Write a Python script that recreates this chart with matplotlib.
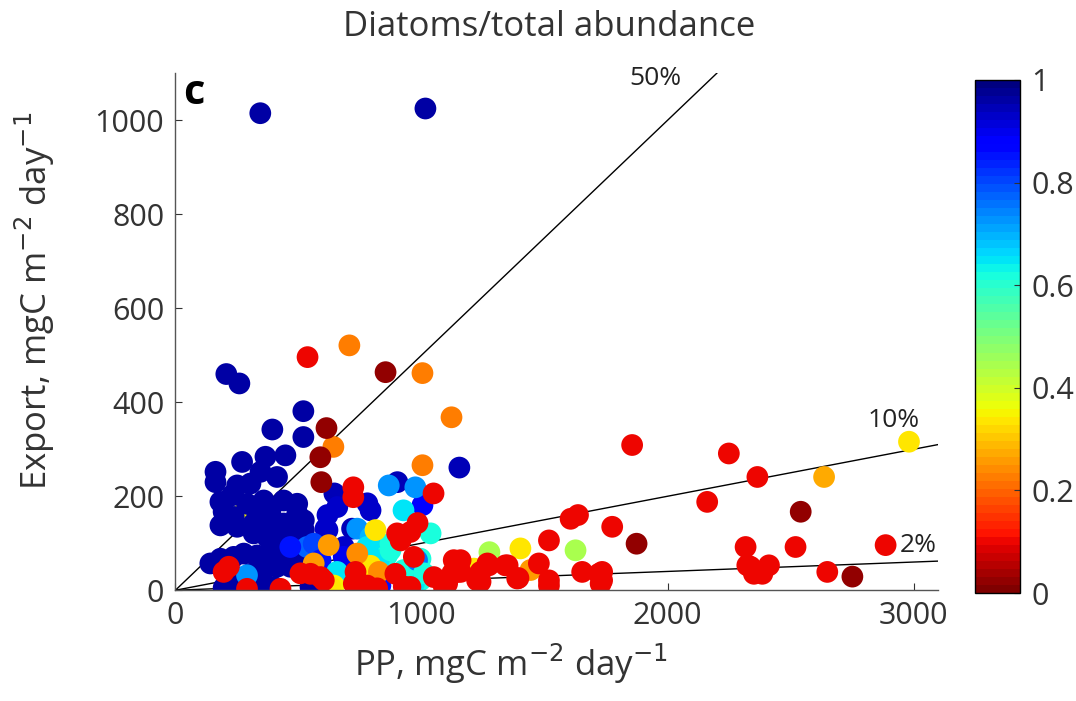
import matplotlib
matplotlib.use("Agg")
import matplotlib.pyplot as plt
import numpy as np

plt.rcParams['font.family'] = ['Open Sans', 'DejaVu Sans']

# ---- data (PP, Export, diatom fraction) ----
hidden_pp = [271]
hidden_ex = [162]
hidden_fr = [0.35]

blue_pp = [345, 1016, 207, 260, 520, 394, 520, 163, 163, 271, 366, 447, 346, 413, 251, 305,
           183, 230, 196, 237, 291, 359, 332, 386, 440, 495, 495, 522, 183, 251, 318, 318,
           386, 440, 373, 427, 481, 522, 142, 183, 237, 278, 332, 386, 427, 481, 224, 251,
           305, 359, 413, 467, 522, 196, 318, 400, 210, 359, 549,
           1154, 902, 646, 780, 793, 1004, 618, 610, 718, 684, 684, 618, 658]
blue_ex = [1015, 1025, 460, 440, 381, 342, 326, 252, 230, 273, 284, 287, 252, 241, 223, 227,
           188, 202, 167, 156, 184, 191, 167, 167, 191, 184, 163, 149, 138, 135, 142, 121,
           142, 142, 113, 121, 128, 128, 57, 67, 71, 78, 74, 78, 85, 85, 21, 28,
           35, 43, 50, 50, 50, 5, 7, 7, 3, 3, 7,
           261, 230, 206, 185, 170, 181, 160, 131, 131, 92, 71, 128, 177]
blue_fr = [0.96] * 59 + [0.95, 0.95, 0.95, 0.93, 0.93, 0.88, 0.93, 0.93, 0.95, 0.93, 0.9, 0.93, 0.93]

mid_pp = [535, 562, 467, 590, 833,
          867, 975, 927, 739, 793, 820, 874, 860, 996, 657, 827, 942, 996, 969, 1037, 291,
          779, 874, 928, 982, 1010,
          1276, 1626,
          1402, 2981, 813, 779, 644, 630, 793, 1213,
          707, 1004, 1122, 642, 1004, 2636, 623, 739, 827, 562, 1443]
mid_ex = [92, 99, 92, 64, 10,
          223, 219, 170, 131, 113, 92, 99, 74, 67, 39, 64, 39, 21, 14, 121, 32,
          92, 85, 43, 64, 36,
          81, 85,
          89, 316, 128, 50, 10, 7, 52, 46,
          521, 462, 368, 305, 266, 241, 96, 78, 39, 57, 43]
mid_fr = [0.78, 0.8, 0.85, 0.85, 0.85,
          0.72, 0.72, 0.65, 0.72, 0.7, 0.65, 0.62, 0.62, 0.62, 0.65, 0.65, 0.62, 0.62, 0.65, 0.62, 0.72,
          0.65, 0.62, 0.62, 0.75, 0.62,
          0.45, 0.45,
          0.34, 0.34, 0.34, 0.34, 0.35, 0.34, 0.34, 0.33,
          0.23, 0.23, 0.23, 0.23, 0.23, 0.27, 0.25, 0.24, 0.24, 0.26, 0.26]

red_pp = [537, 723, 723, 1049, 984, 901, 955, 915, 969, 1131, 1145, 732, 894, 1050, 1104, 725,
          779, 1226, 603, 928, 196, 217, 291, 427, 549, 508, 590, 739, 820, 955, 1091, 1125,
          1159, 1274, 1240, 1341, 1389, 1477, 1518, 1653, 1721, 1728, 1240, 1518, 1159, 1636,
          1606, 1775, 1518, 1856, 2249, 2365, 2161, 2317, 2324, 2351, 1734, 1734, 2337, 2385,
          2412, 2520, 2649, 2886, 1106, 1350, 1394, 1268,
          854, 614, 589, 593, 1874, 2541, 2751]
red_ex = [496, 219, 198, 206, 143, 121, 124, 106, 71, 64, 39, 39, 35, 28, 14, 14,
          10, 21, 21, 8, 39, 50, 3, 3, 35, 36, 28, 7, 4, 7, 7, 36,
          64, 53, 39, 53, 25, 57, 21, 39, 35, 14, 18, 10, 39, 160,
          152, 135, 106, 309, 291, 241, 188, 92, 53, 35, 39, 21, 50, 35,
          53, 92, 39, 96, 21, 53, 26, 57,
          464, 345, 283, 230, 99, 167, 29]
red_fr = [0.1] * 68 + [0.03] * 7

pp = hidden_pp + blue_pp + mid_pp + red_pp
ex = hidden_ex + blue_ex + mid_ex + red_ex
fr = hidden_fr + blue_fr + mid_fr + red_fr

ratios = [0.5, 0.1, 0.02]
ratio_labels = ['50%', '10%', '2%']
ratio_label_pos = [(1951, 1089), (2919, 362), (3020, 96)]

xticks = [0, 1000, 2000, 3000]
yticks = [0, 200, 400, 600, 800, 1000]
cticks = [0, 0.2, 0.4, 0.6, 0.8, 1]

# ---- figure ----
fig = plt.figure(figsize=(10.76, 7.01), dpi=100)
ax = fig.add_axes([0.163, 0.158, 0.709, 0.7375])
cmap = plt.get_cmap('jet_r', 64)

for r in ratios:
    xe = min(3100, 1100 / r)
    ax.plot([0, xe], [0, r * xe], color='black', lw=1.0, zorder=1)

sc = ax.scatter(pp, ex, c=fr, cmap=cmap, vmin=0, vmax=1, s=245,
                edgecolors='none', zorder=2)

for lab, (lx, ly) in zip(ratio_labels, ratio_label_pos):
    ax.text(lx, ly, lab, fontsize=19, ha='center', va='center', color='#222222', zorder=3)

ax.set_xlim(0, 3100)
ax.set_ylim(0, 1100)
ax.set_xticks(xticks)
ax.set_yticks(yticks)
for s in ['top', 'right']:
    ax.spines[s].set_visible(False)
for s in ['left', 'bottom']:
    ax.spines[s].set_color('#555555')
    ax.spines[s].set_linewidth(1.0)
ax.tick_params(direction='in', length=5, labelsize=22, colors='#333333', pad=8)
ax.set_xlabel('PP, mgC m$^{-2}$ day$^{-1}$', fontsize=25, color='#333333')
ax.set_ylabel('Export, mgC m$^{-2}$ day$^{-1}$', fontsize=25, color='#333333')
ax.xaxis.set_label_coords(0.44, -0.1)
ax.yaxis.set_label_coords(-0.155, 0.56)
ax.text(0.01, 0.96, 'c', transform=ax.transAxes, fontsize=30, fontweight='bold',
        ha='left', va='center')
fig.text(0.51, 0.962, 'Diatoms/total abundance', fontsize=25, ha='center', va='center',
         color='#333333')

cax = fig.add_axes([0.906, 0.154, 0.042, 0.732])
cb = fig.colorbar(sc, cax=cax, ticks=cticks)
cb.ax.set_yticklabels(['0', '0.2', '0.4', '0.6', '0.8', '1'])
cb.ax.tick_params(direction='in', length=4, labelsize=22, colors='#333333', pad=8)
cb.outline.set_linewidth(1.0)

fig.savefig('out.png', dpi=100)
